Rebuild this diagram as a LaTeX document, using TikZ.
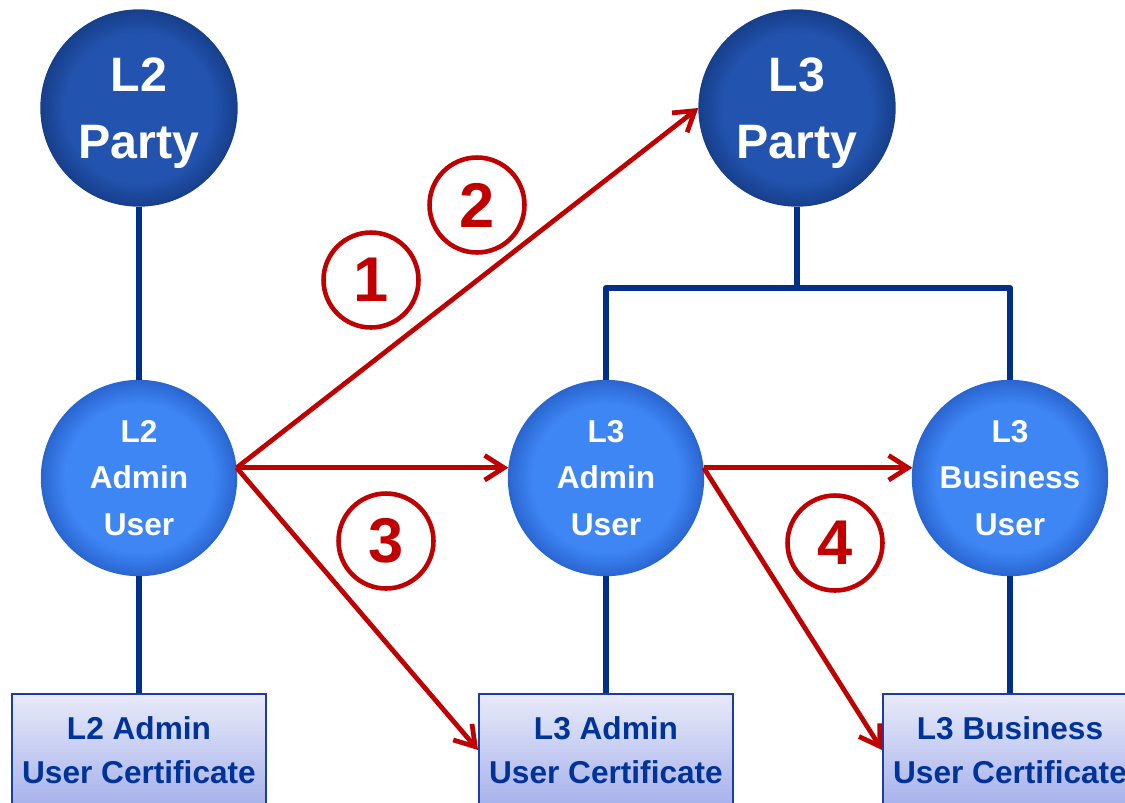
\documentclass[tikz,border=0pt]{standalone}
\usepackage{fontspec}
\setmainfont{Liberation Sans}
\usetikzlibrary{arrows.meta}
\definecolor{partyblue}{HTML}{2253AE}
\definecolor{partyrim}{HTML}{173F8C}
\definecolor{userblue}{HTML}{3E86F4}
\definecolor{userrim}{HTML}{2A66D2}
\definecolor{linkblue}{HTML}{00308A}
\definecolor{flowred}{HTML}{C00000}
\definecolor{certtop}{HTML}{E8EAF9}
\definecolor{certbot}{HTML}{A6B1EA}
\definecolor{certline}{HTML}{1A3FA0}
\definecolor{certtext}{HTML}{003399}
\pgfdeclareradialshading{partyball}{\pgfpointorigin}{color(0bp)=(partyblue); color(19bp)=(partyblue); color(25bp)=(partyrim); color(50bp)=(partyrim)}
\pgfdeclareradialshading{userball}{\pgfpointorigin}{color(0bp)=(userblue); color(19bp)=(userblue); color(25bp)=(userrim); color(50bp)=(userrim)}
\begin{document}
\begin{tikzpicture}[x=0.02cm,y=-0.02cm,
  party/.style={circle,minimum size=3.92cm,inner sep=0pt,shading=partyball,draw=partyrim,line width=0.8pt,
    text=white,align=center,font=\bfseries\fontsize{27.5}{38}\selectfont},
  user/.style={circle,minimum size=3.9cm,inner sep=0pt,shading=userball,draw=userrim,line width=0.8pt,
    text=white,align=center,font=\bfseries\fontsize{18}{26.5}\selectfont},
  cert/.style={rectangle,minimum width=5.08cm,minimum height=2.24cm,inner sep=0pt,top color=certtop,bottom color=certbot,
    draw=certline,line width=1.1pt,text=certtext,align=center,font=\bfseries\fontsize{18}{25}\selectfont},
  link/.style={draw=linkblue,line width=3.4pt,line join=round},
  flow/.style={draw=flowred,line width=2.7pt,-{Straight Barb[length=11pt,width=14pt]}},
  badge/.style={circle,draw=flowred,line width=2.6pt,minimum size=1.9cm,inner sep=0pt,
    text=flowred,font=\bfseries\fontsize{36}{36}\selectfont}]
    \useasboundingbox (0,0) rectangle (1125,802);
    \node[party] (l2party) at (139,108) {L2\\\raisebox{0pt}[\height][0pt]{Party}};
    \node[party] (l3party) at (797,108) {L3\\\raisebox{0pt}[\height][0pt]{Party}};
    \node[user] (l2admin) at (139,478) {L2\\Admin\\User};
    \node[user] (l3admin) at (606,478) {L3\\Admin\\User};
    \node[user] (l3business) at (1010,478) {L3\\Business\\User};
    \node[cert] (l2cert) at (139,750) {L2 Admin\\User Certificate};
    \node[cert] (l3acert) at (606,750) {L3 Admin\\User Certificate};
    \node[cert] (l3bcert) at (1010,750) {L3 Business\\User Certificate};
    \coordinate (fork) at (797,288);
    \draw[link] (l2party) -- (l2admin) -- (l2cert);
    \draw[link] (l3party.south) -- (fork);
    \draw[link] (l3admin.north) |- (fork) -| (l3business.north);
    \draw[link] (l3admin) -- (l3acert);
    \draw[link] (l3business) -- (l3bcert);
    \draw[flow] (l2admin.6) -- (l3party.west);
    \draw[flow] (l2admin.6) -- (l3admin.174);
    \draw[flow] (l2admin.6) -- (l3acert.west);
    \draw[flow] (l3admin.6) -- (l3business.174);
    \draw[flow] (l3admin.6) -- (l3bcert.west);
    \node[badge] (one) at (371,280) {1};
    \node[badge] (two) at (477,205) {2};
    \node[badge] (three) at (386,541) {3};
    \node[badge] (four) at (835,543) {4};
\end{tikzpicture}
\end{document}
